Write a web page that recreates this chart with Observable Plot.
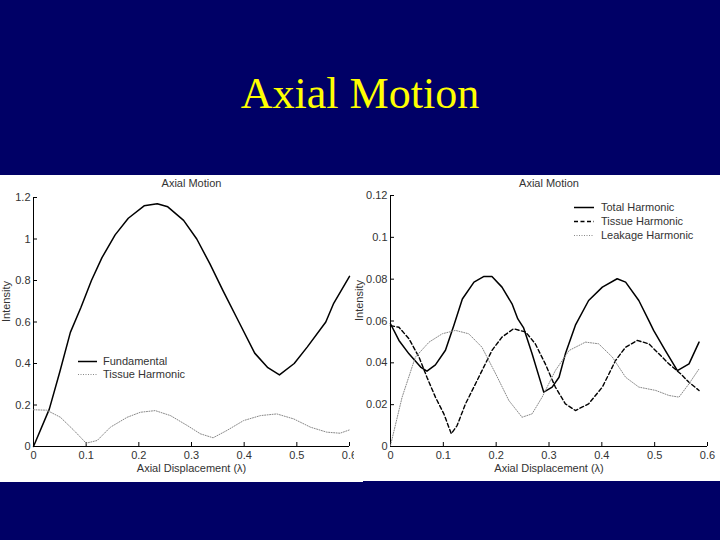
<!DOCTYPE html>
<html>
<head>
<meta charset="utf-8">
<script src="https://cdn.jsdelivr.net/npm/d3@7"></script>
<script src="https://cdn.jsdelivr.net/npm/@observablehq/plot@0.6"></script>
<style>
  html, body { margin: 0; padding: 0; }
  body { width: 720px; height: 540px; background: #000066; position: relative; overflow: hidden; font-family: "Liberation Sans", Arial, sans-serif; }
  #title { position: absolute; left: 0; width: 720px; top: 68px; text-align: center; color: #ffff00; font-family: "Liberation Serif", "Times New Roman", serif; font-size: 44px; line-height: 52px; }
  .panel { position: absolute; background: #ffffff; }
  .panel svg { display: block; }
  .legend { position: absolute; font-size: 11px; color: #333; }
  .legend .row { position: absolute; white-space: nowrap; height: 13px; line-height: 13px; }
  .legend svg { position: absolute; left: 0; top: 0; }
  .legend span { position: absolute; top: 0; }
</style>
</head>
<body>
<div id="title">Axial Motion</div>
<div id="left" class="panel" style="left:0px; top:175px;"></div>
<div id="right" class="panel" style="left:354px; top:175px;"></div>
<div id="legL" class="legend"></div>
<div id="legR" class="legend"></div>
<script>
// ---------- data ----------
const chartTitle = "Axial Motion";
const xLabel = "Axial Displacement (\u03bb)";
const yLabel = "Intensity";
const xTicks = [0, 0.1, 0.2, 0.3, 0.4, 0.5, 0.6];
const yTicksLeft = [0, 0.2, 0.4, 0.6, 0.8, 1, 1.2];
const yTicksRight = [0, 0.02, 0.04, 0.06, 0.08, 0.1, 0.12];

const seriesLeft = ["Fundamental", "Tissue Harmonic"];
const seriesRight = ["Total Harmonic", "Tissue Harmonic", "Leakage Harmonic"];

const fundX = [0, 0.03, 0.05, 0.07, 0.09, 0.11, 0.13, 0.155, 0.18, 0.21, 0.235, 0.255, 0.285, 0.31, 0.335, 0.36, 0.39, 0.42, 0.445, 0.467, 0.495, 0.52, 0.555, 0.57, 0.6];
const fundY = [0, 0.18, 0.36, 0.55, 0.67, 0.80, 0.91, 1.02, 1.10, 1.16, 1.17, 1.155, 1.09, 1.0, 0.88, 0.75, 0.6, 0.45, 0.38, 0.345, 0.40, 0.48, 0.6, 0.69, 0.82];

const tissLX = [0, 0.025, 0.051, 0.077, 0.1, 0.121, 0.146, 0.178, 0.203, 0.231, 0.26, 0.292, 0.317, 0.341, 0.367, 0.399, 0.431, 0.462, 0.494, 0.526, 0.557, 0.582, 0.6];
const tissLY = [0.177, 0.175, 0.141, 0.077, 0.016, 0.029, 0.093, 0.141, 0.165, 0.173, 0.149, 0.101, 0.061, 0.042, 0.077, 0.125, 0.149, 0.157, 0.133, 0.093, 0.069, 0.064, 0.08];

const totX = [0, 0.016, 0.035, 0.057, 0.069, 0.085, 0.104, 0.12, 0.136, 0.158, 0.177, 0.192, 0.211, 0.23, 0.241, 0.252, 0.268, 0.29, 0.306, 0.319, 0.331, 0.35, 0.375, 0.401, 0.429, 0.445, 0.47, 0.489, 0.498, 0.52, 0.543, 0.565, 0.584];
const totY = [0.0587, 0.0507, 0.0443, 0.038, 0.036, 0.039, 0.046, 0.058, 0.0705, 0.0786, 0.0813, 0.0813, 0.0762, 0.0682, 0.061, 0.0567, 0.0443, 0.026, 0.0284, 0.0331, 0.0443, 0.058, 0.0698, 0.0762, 0.0802, 0.0786, 0.0698, 0.0602, 0.0555, 0.0459, 0.0363, 0.0395, 0.0499];

const tissRX = [0, 0.016, 0.035, 0.054, 0.069, 0.085, 0.101, 0.115, 0.126, 0.142, 0.167, 0.192, 0.211, 0.233, 0.256, 0.274, 0.293, 0.312, 0.331, 0.35, 0.375, 0.401, 0.426, 0.445, 0.467, 0.489, 0.508, 0.527, 0.549, 0.565, 0.584];
const tissRY = [0.0578, 0.057, 0.0515, 0.0427, 0.0331, 0.0236, 0.0156, 0.0061, 0.01, 0.0204, 0.0331, 0.0459, 0.0523, 0.0563, 0.0547, 0.0491, 0.0395, 0.0284, 0.0204, 0.0172, 0.0204, 0.0284, 0.0411, 0.0475, 0.0507, 0.0491, 0.0443, 0.0395, 0.0348, 0.0307, 0.0268];

const leakX = [0, 0.022, 0.047, 0.073, 0.098, 0.123, 0.148, 0.173, 0.199, 0.224, 0.249, 0.268, 0.287, 0.312, 0.338, 0.369, 0.394, 0.42, 0.445, 0.47, 0.502, 0.527, 0.546, 0.565, 0.584];
const leakY = [0.0005, 0.0236, 0.0427, 0.0499, 0.0539, 0.0555, 0.0539, 0.0475, 0.0348, 0.022, 0.014, 0.0156, 0.0236, 0.0363, 0.0459, 0.0499, 0.0491, 0.0427, 0.0331, 0.0284, 0.0268, 0.0244, 0.0236, 0.03, 0.0371];

// ---------- styles ----------
const styles = {
  "solid":  {stroke: "#000", strokeWidth: 1.5},
  "dashed": {stroke: "#000", strokeWidth: 1.4, strokeDasharray: "4,2.5"},
  "dotted": {stroke: "#888", strokeWidth: 1, strokeDasharray: "1,1.5"}
};

const zip = (xs, ys) => xs.map((x, i) => ({x, y: ys[i]}));

function chart({width, height, marginLeft, marginRight, marginTop, marginBottom, yDomain, yTicks, lines, titleDy, yLabelDx}) {
  const txt = {fill: "#333", fontSize: 11, fontFamily: "Liberation Sans, Arial, sans-serif"};
  return Plot.plot({
    width, height, marginLeft, marginRight, marginTop, marginBottom,
    style: {background: "#fff", fontFamily: "Liberation Sans, Arial, sans-serif", fontSize: "11px", color: "#333"},
    x: {domain: [0, 0.6], axis: null},
    y: {domain: yDomain, axis: null},
    marks: [
      Plot.axisX({ticks: xTicks, tickFormat: "~g", tickSize: -4, tickPadding: 9, label: null, fontSize: 11, stroke: "#000", color: "#333"}),
      Plot.axisY({ticks: yTicks, tickFormat: "~g", tickSize: -4, tickPadding: 7, label: null, fontSize: 11, stroke: "#000", color: "#333"}),
      Plot.ruleX([0], {stroke: "#000", strokeWidth: 1}),
      Plot.ruleY([0], {stroke: "#000", strokeWidth: 1}),
      ...lines.map(([xs, ys, st]) => Plot.line(zip(xs, ys), {x: "x", y: "y", ...styles[st]})),
      Plot.text([chartTitle], {frameAnchor: "top", dy: titleDy, lineAnchor: "middle", ...txt}),
      Plot.text([xLabel], {frameAnchor: "bottom", dy: 22, lineAnchor: "middle", ...txt}),
      Plot.text([yLabel], {frameAnchor: "left", dx: yLabelDx, rotate: -90, lineAnchor: "middle", ...txt})
    ]
  });
}

document.getElementById("left").appendChild(chart({
  width: 363, height: 307, marginLeft: 33, marginRight: 14, marginTop: 22, marginBottom: 36,
  yDomain: [0, 1.2], yTicks: yTicksLeft,
  lines: [[fundX, fundY, "solid"], [tissLX, tissLY, "dotted"]],
  titleDy: -14, yLabelDx: -27
}));

document.getElementById("right").appendChild(chart({
  width: 366, height: 306, marginLeft: 36, marginRight: 13, marginTop: 20, marginBottom: 35,
  yDomain: [0, 0.12], yTicks: yTicksRight,
  lines: [[totX, totY, "solid"], [tissRX, tissRY, "dashed"], [leakX, leakY, "dotted"]],
  titleDy: -12, yLabelDx: -31
}));

// ---------- legends ----------
function legend(el, left, top, names, kinds, rowH, lineW, gap) {
  el.style.left = left + "px";
  el.style.top = top + "px";
  names.forEach((n, i) => {
    const row = document.createElement("div");
    row.className = "row";
    row.style.top = (i * rowH) + "px";
    const st = styles[kinds[i]];
    const svg = d3.create("svg").attr("width", lineW).attr("height", 13);
    svg.append("line").attr("x1", 0).attr("x2", lineW).attr("y1", 6.5).attr("y2", 6.5)
      .attr("stroke", st.stroke).attr("stroke-width", st.strokeWidth)
      .attr("stroke-dasharray", st.strokeDasharray || null);
    row.appendChild(svg.node());
    const s = document.createElement("span");
    s.style.left = (lineW + gap) + "px";
    s.textContent = n;
    row.appendChild(s);
    el.appendChild(row);
  });
}
legend(document.getElementById("legL"), 78, 355, seriesLeft, ["solid", "dotted"], 13, 19, 6);
legend(document.getElementById("legR"), 574, 201, seriesRight, ["solid", "dashed", "dotted"], 14, 20, 7);
</script>
</body>
</html>
